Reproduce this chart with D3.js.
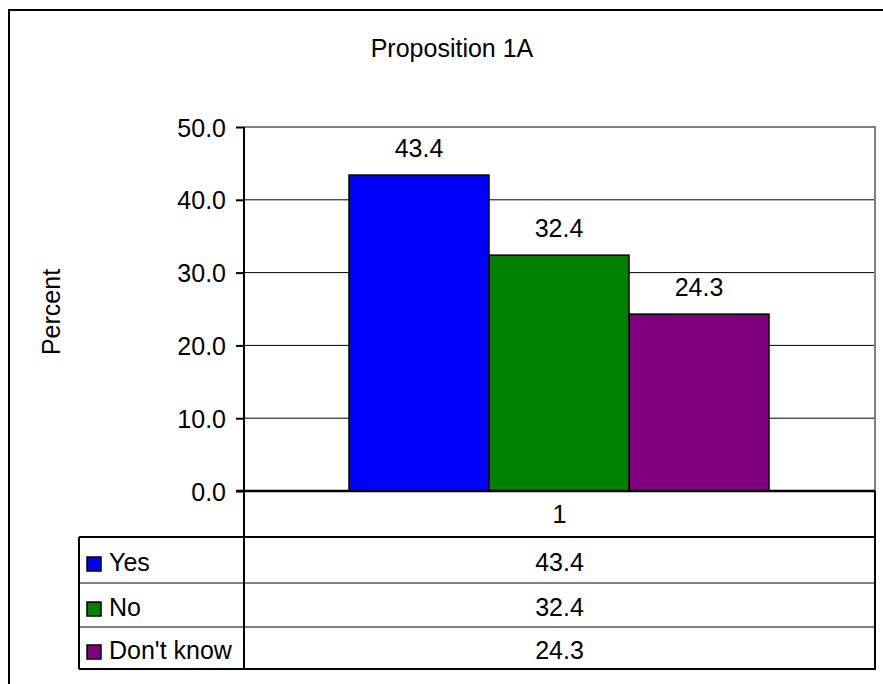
<!DOCTYPE html>
<html>
<head>
<meta charset="utf-8">
<script src="https://d3js.org/d3.v7.min.js"></script>
<style>
  body { margin: 0; background: #fff; }
  text { font-family: "Liberation Sans", Arial, sans-serif; fill: #000; }
</style>
</head>
<body>
<div id="chart"></div>
<script>

// Données
var categories = ["1"];
var series = ["Yes", "No", "Don't know"];
var values = [43.4, 32.4, 24.3];
var colors = ["#0000ff", "#008000", "#800080"];
var yTicks = [0, 10, 20, 30, 40, 50];
var title = "Proposition 1A";

var W = 883, H = 684;
var FS = 25;
var plot = {left: 244, right: 875, top: 127, bottom: 491};
var tableLeft = 79;
var rowH = [46, 46, 44, 42]; // rangée "1" puis les trois séries

var svg = d3.select("#chart").append("svg")
  .attr("width", W).attr("height", H);

// Cadre extérieur (ouvert à droite et en bas)
svg.append("path")
  .attr("d", "M9," + H + " V10 H" + W)
  .attr("fill", "none").attr("stroke", "#000").attr("stroke-width", 2);

svg.append("text")
  .attr("x", 452).attr("y", 57)
  .attr("text-anchor", "middle").attr("font-size", FS)
  .text(title);

var y = d3.scaleLinear().domain([0, 50]).range([plot.bottom, plot.top]);

var x0 = d3.scaleBand().domain(categories)
  .range([plot.left, plot.right]).paddingInner(0).paddingOuter(0);
var x1 = d3.scaleBand().domain(series)
  .range([x0.bandwidth() * 105 / 631, x0.bandwidth() * 525 / 631]);

// Quadrillage
svg.append("g").selectAll("line")
  .data(yTicks.filter(function(d) { return d > 0 && d < 50; }))
  .join("line")
  .attr("x1", plot.left).attr("x2", plot.right)
  .attr("y1", function(d) { return y(d); }).attr("y2", function(d) { return y(d); })
  .attr("stroke", "#000").attr("stroke-width", 1);

// Bordure grise de la zone de tracé
svg.append("path")
  .attr("d", "M" + plot.left + "," + plot.top + " H" + plot.right + " V" + plot.bottom)
  .attr("fill", "none").attr("stroke", "#808080").attr("stroke-width", 2);

// Barres
var g = svg.append("g").attr("transform", "translate(" + x0(categories[0]) + ",0)");
g.selectAll("rect")
  .data(series)
  .join("rect")
  .attr("x", function(d) { return x1(d); })
  .attr("y", function(d, i) { return y(values[i]); })
  .attr("width", x1.bandwidth())
  .attr("height", function(d, i) { return y(0) - y(values[i]); })
  .attr("fill", function(d, i) { return colors[i]; })
  .attr("stroke", "#000").attr("stroke-width", 1.5);

g.selectAll("text.lbl")
  .data(series)
  .join("text")
  .attr("class", "lbl")
  .attr("x", function(d) { return x1(d) + x1.bandwidth() / 2; })
  .attr("y", function(d, i) { return y(values[i]) - 18; })
  .attr("text-anchor", "middle").attr("font-size", FS)
  .text(function(d, i) { return values[i].toFixed(1); });

// Axe Y
var yAxis = d3.axisLeft(y).tickValues(yTicks).tickSize(8).tickPadding(10)
  .tickFormat(d3.format(".1f"));
var ax = svg.append("g").attr("transform", "translate(" + plot.left + ",0)").call(yAxis);
ax.select(".domain").remove();
ax.selectAll(".tick line").attr("stroke", "#000").attr("stroke-width", 2);
ax.selectAll(".tick text").attr("font-size", FS).attr("dy", "0.36em")
  .attr("font-family", "Liberation Sans, Arial, sans-serif").attr("fill", "#000");

svg.append("text")
  .attr("transform", "translate(60,312) rotate(-90)")
  .attr("text-anchor", "middle").attr("font-size", FS)
  .text("Percent");

// Tableau de données
var rowY = [plot.bottom];
rowH.forEach(function(h) { rowY.push(rowY[rowY.length - 1] + h); });

// Axe X (ligne de base)
svg.append("line")
  .attr("x1", plot.left - 8).attr("x2", plot.right)
  .attr("y1", plot.bottom).attr("y2", plot.bottom)
  .attr("stroke", "#000").attr("stroke-width", 2.5);

// Ligne verticale de l'axe Y jusqu'au bas du tableau
svg.append("line")
  .attr("x1", plot.left).attr("x2", plot.left)
  .attr("y1", plot.top).attr("y2", rowY[4])
  .attr("stroke", "#000").attr("stroke-width", 2);

// Bordures des lignes
[1, 2, 3, 4].forEach(function(k) {
  svg.append("line")
    .attr("x1", tableLeft).attr("x2", plot.right + 1)
    .attr("y1", rowY[k]).attr("y2", rowY[k])
    .attr("stroke", "#000").attr("stroke-width", (k === 1 || k === 4) ? 2 : 1);
});
svg.append("line")
  .attr("x1", tableLeft).attr("x2", tableLeft)
  .attr("y1", rowY[1]).attr("y2", rowY[4])
  .attr("stroke", "#000").attr("stroke-width", 2);
svg.append("line")
  .attr("x1", plot.right).attr("x2", plot.right)
  .attr("y1", plot.bottom).attr("y2", rowY[4])
  .attr("stroke", "#000").attr("stroke-width", 2);

var cx = (plot.left + plot.right) / 2;
svg.append("text")
  .attr("x", cx).attr("y", (rowY[0] + rowY[1]) / 2 + 9)
  .attr("text-anchor", "middle").attr("font-size", FS)
  .text(categories[0]);

series.forEach(function(s, i) {
  var mid = (rowY[i + 1] + rowY[i + 2]) / 2;
  svg.append("rect")
    .attr("x", 87).attr("y", mid - 3)
    .attr("width", 14).attr("height", 14)
    .attr("fill", colors[i]).attr("stroke", "#000").attr("stroke-width", 1.5);
  svg.append("text")
    .attr("x", 109).attr("y", mid + 11)
    .attr("font-size", FS).text(s);
  svg.append("text")
    .attr("x", cx).attr("y", mid + 11)
    .attr("text-anchor", "middle").attr("font-size", FS)
    .text(values[i].toFixed(1));
});

</script>
</body>
</html>
